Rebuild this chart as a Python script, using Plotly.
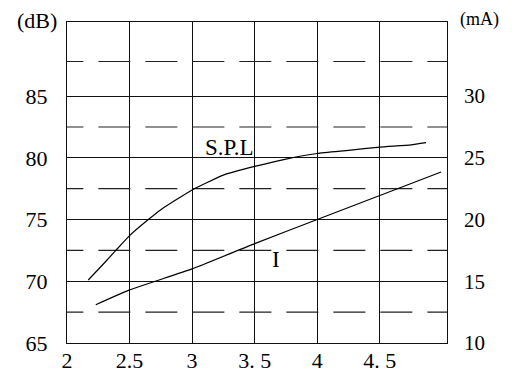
import plotly.graph_objects as go

# Data
spl_v = [2.17, 2.3, 2.39, 2.5, 2.65, 2.75, 3.0, 3.25, 3.5, 3.75, 4.0, 4.25, 4.5, 4.75, 4.87]
spl_db = [70.1, 71.5, 72.5, 73.7, 75.0, 75.8, 77.4, 78.6, 79.3, 79.9, 80.35, 80.6, 80.87, 81.05, 81.23]

i_v = [2.23, 2.5, 3.0, 3.5, 4.0, 4.5, 4.99]
i_ma = [13.1, 14.3, 16.0, 18.05, 20.0, 21.95, 23.85]

x_ticks = [2, 2.5, 3, 3.5, 4, 4.5]
x_ticktext = ["2", "2.5", "3", "3. 5", "4", "4. 5"]
db_ticks = [65, 70, 75, 80, 85]
ma_ticks = [10, 15, 20, 25, 30]
dashed_db = [67.5, 72.5, 77.5, 82.5, 87.8]

X_RANGE = [2, 5.037]
DB_RANGE = [65, 91]
MA_RANGE = [10, 36]

FONT = "Times New Roman"

# page has an 8px body margin, so the figure is shifted by 8px
OFF = 8
W, H = 512 - OFF, 374 - OFF
ML, MR, MT, MB = 67 - OFF, 65, 22 - OFF, 31

fig = go.Figure()

for yv in dashed_db:
    fig.add_trace(go.Scatter(x=[1.875, 5.1], y=[yv, yv], mode="lines",
                             line=dict(color="#222", width=1.1, dash="32px,15px"),
                             hoverinfo="skip", showlegend=False, yaxis="y"))

fig.add_trace(go.Scatter(x=spl_v, y=spl_db, mode="lines",
                         line=dict(color="black", width=1.2, shape="spline", smoothing=0.4),
                         showlegend=False, yaxis="y"))
fig.add_trace(go.Scatter(x=i_v, y=i_ma, mode="lines",
                         line=dict(color="black", width=1.2, shape="spline", smoothing=0.4),
                         showlegend=False, yaxis="y2"))

fig.update_layout(
    width=W, height=H,
    margin=dict(l=ML, r=MR, t=MT, b=MB, autoexpand=False),
    paper_bgcolor="white", plot_bgcolor="white",
    font=dict(family=FONT, size=22, color="black"),
    xaxis=dict(range=X_RANGE, tickvals=x_ticks, ticktext=x_ticktext,
               showgrid=True, gridcolor="#111", gridwidth=1,
               showline=True, linecolor="#111", linewidth=1.2, mirror=True,
               ticks="", zeroline=False, ticklabelstandoff=-3, automargin=False,
               tickfont=dict(family=FONT, size=22)),
    yaxis=dict(range=DB_RANGE, tickvals=db_ticks,
               showgrid=True, gridcolor="#111", gridwidth=1,
               showline=True, linecolor="#111", linewidth=1.2, mirror=True,
               ticks="", zeroline=False, ticklabelstandoff=14, automargin=False,
               tickfont=dict(family=FONT, size=22)),
    yaxis2=dict(range=MA_RANGE, tickvals=ma_ticks, overlaying="y", side="right",
                showgrid=False, showline=False, ticks="", zeroline=False,
                ticklabelstandoff=16, automargin=False,
                tickfont=dict(family=FONT, size=21)),
    annotations=[
        dict(text="(dB)", x=37, y=20, xref="paper", yref="paper", showarrow=False,
             xanchor="center", yanchor="middle", font=dict(size=22)),
        dict(text="S.P.L", x=3.30, y=80.85, xref="x", yref="y", showarrow=False,
             xanchor="center", yanchor="middle", font=dict(size=23)),
        dict(text="I", x=3.67, y=71.76, xref="x", yref="y", showarrow=False,
             xanchor="center", yanchor="middle", font=dict(size=23)),
        dict(text="(V)", x=4.92, y=63.3, xref="x", yref="y", showarrow=False,
             xanchor="center", yanchor="middle", font=dict(size=21)),
        dict(text="(mA)", x=479, y=19, xref="paper", yref="paper", showarrow=False,
             xanchor="center", yanchor="middle", font=dict(size=18)),
    ],
)

# convert pixel-placed (page pixel) annotations to paper coordinates
pw = W - ML - MR
ph = H - MT - MB
for a in fig.layout.annotations:
    if a.xref == "paper":
        px, py = a.x - OFF, a.y - OFF
        a.x = (px - ML) / pw
        a.y = (H - MB - py) / ph

fig.write_html("out.html")
